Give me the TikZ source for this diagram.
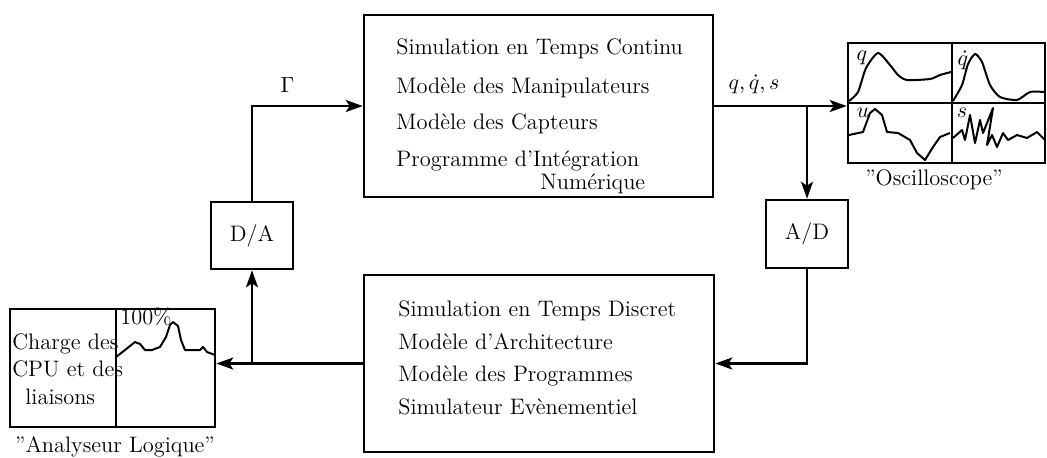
\documentclass[tikz,border=0pt]{standalone}
\usepackage{amsmath}
\usepackage{tikz}
\usetikzlibrary{arrows.meta,positioning}

\tikzset{
  bloc/.style={draw, line width=1.3pt, rectangle, inner sep=0pt},
  ligne/.style={anchor=base west, inner sep=0pt},
  fleche/.style={line width=1.2pt, -{Stealth[length=8.5pt,width=6pt,inset=2pt]}},
  trace/.style={line width=1pt, line join=round},
}

\begin{document}
\begin{tikzpicture}[x=0.5pt, y=-0.5pt, font=\fontsize{11.2}{13}\selectfont]
    \useasboundingbox (0,0) rectangle (1047,457);

    % blocs
    \node[bloc, minimum width=174.5pt, minimum height=91pt] (cont) at (538.5,106) {};
    \node[bloc, minimum width=175pt, minimum height=88.5pt] (disc) at (539,363.5) {};
    \node[bloc, minimum width=41pt, minimum height=33.5pt] (da) at (252,235.5) {D/A};
    \node[bloc, minimum width=41pt, minimum height=34pt] (ad) at (807,234) {A/D};
    \node[bloc, minimum width=102.5pt, minimum height=59pt] (ana) at (112.5,368) {};
    \node[bloc, minimum width=98.5pt, minimum height=60pt] (osc) at (946.5,103) {};

    % textes des blocs
    \node[ligne] (c1) at (396,54) {Simulation en Temps Continu};
    \node[ligne] (c2) at (396,93) {Modèle des Manipulateurs};
    \node[ligne] (c3) at (396,129) {Modèle des Capteurs};
    \node[ligne] (c4) at (396,166) {Programme d'Intégration};
    \node[ligne] (c5) at (540,189) {Numérique};

    \node[ligne] (d1) at (398,316) {Simulation en Temps Discret};
    \node[ligne] (d2) at (398,349) {Modèle d'Architecture};
    \node[ligne] (d3) at (398,381) {Modèle des Programmes};
    \node[ligne] (d4) at (398,414) {Simulateur Evènementiel};

    % analyseur
    \draw[line width=0.9pt] (ana.north -| 116,0) -- (ana.south -| 116,0);
    \node[ligne] (a1) at (12,349) {Charge des};
    \node[ligne] (a2) at (12,376) {CPU et des};
    \node[ligne] (a3) at (25,404) {liaisons};
    \node[ligne] (a4) at (120,324) {100\%};
    \draw[trace] plot coordinates {(116,357) (125,350) (135,342) (140,344) (145,350)
        (152,350) (160,347) (166,337) (170,325) (173,322) (178,326) (181,340) (185,350)
        (193,350) (200,350) (203,347) (207,352) (215,355)};
    \node (anatitre) at (115,447) {\textquotedblright Analyseur Logique\textquotedblright};

    % oscilloscope
    \draw[line width=0.9pt] (osc.west) -- (osc.east);
    \draw[line width=0.9pt] (osc.north -| 952,0) -- (osc.south -| 952,0);
    \draw[trace] plot[smooth, tension=0.4] coordinates {(849,101) (858,92) (866,68)
        (878,53) (890,65) (898,75) (907,80) (930,79) (940,75) (951,72)};
    \draw[trace] plot[smooth, tension=0.4] coordinates {(953,101) (962,85) (968,64)
        (975,54) (982,62) (990,85) (1000,97) (1017,100) (1030,92) (1045,92)};
    \draw[trace] plot coordinates {(849,135) (863,132) (870,113) (875,109) (882,115)
        (887,132) (898,133) (910,140) (917,153) (925,160) (933,147) (940,137) (950,133)};
    \draw[trace] plot coordinates {(953,138) (962,130) (965,140) (970,115) (975,143)
        (980,120) (983,133) (993,108) (987,145) (992,135) (997,147) (1003,133)
        (1008,140) (1017,135) (1027,138) (1037,132) (1045,140)};
    \node (lq) at (862,58) {$q$};
    \node (lqp) at (963,60) {$\dot q$};
    \node (lu) at (863,113) {$u$};
    \node (ls) at (962,113) {$s$};
    \node (osctitre) at (934,180) {\textquotedblright Oscilloscope\textquotedblright};

    % liaisons
    \draw[fleche] (da.north) |- (cont.west) node[pos=0.66, above=3pt] {$\Gamma$};
    \draw[fleche] (cont.east) -- (cont.east -| osc.west) node[pos=0.3, above=2pt] {$q,\dot q,s$};
    \draw[fleche] (ad.north |- cont.east) -- (ad.north);
    \draw[fleche] (ad.south) |- (disc.east);
    \draw[fleche] (disc.west) -- (disc.west -| ana.east);
    \draw[fleche] (da.south |- disc.west) -- (da.south);
\end{tikzpicture}
\end{document}
